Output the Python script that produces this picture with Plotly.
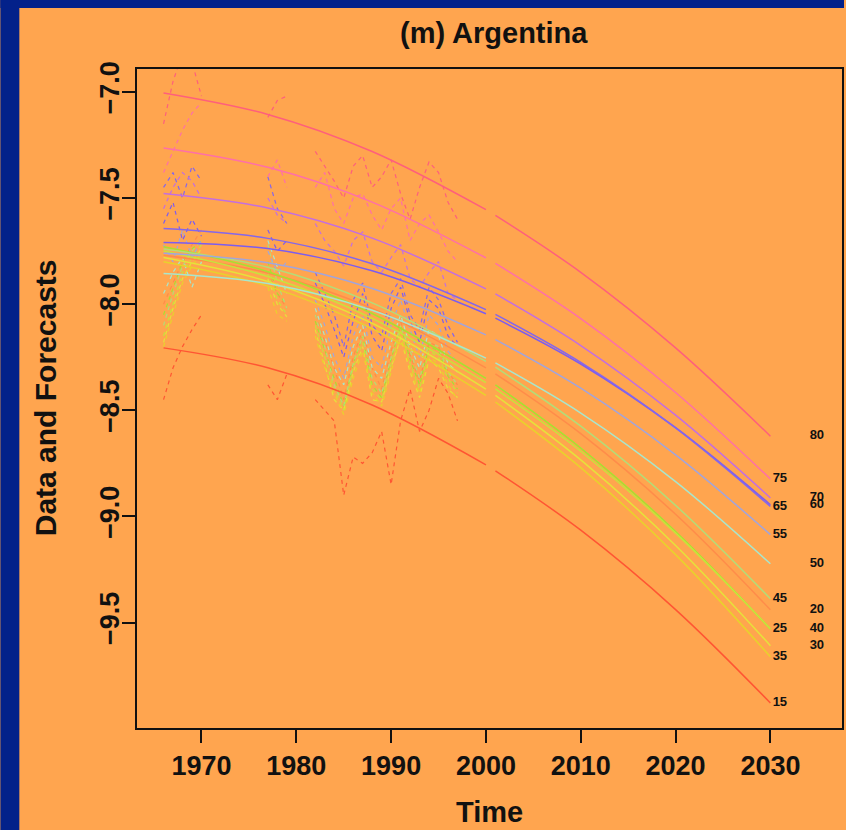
import plotly.graph_objects as go

# ---------------------------------------------------------------------------
# Data: log mortality rates for Argentina by age group, observed values,
# fitted curves (1966-2000) and forecasts (2001-2030)
# ---------------------------------------------------------------------------
AGES = [15, 20, 25, 30, 35, 40, 45, 50, 55, 60, 65, 70, 75, 80]

# observed years (None breaks the dashed data into its three runs)
OBS_YEARS = [1966, 1967, 1968, 1969, 1970, None,
             1977, 1978, 1979, None,
             1982, 1983, 1984, 1985, 1986, 1987, 1988, 1989,
             1990, 1991, 1992, 1993, 1994, 1995, 1996, 1997]

# observed values, one row per age group (in AGES order)
OBSERVED = [
    [-8.45, -8.30, -8.20, -8.12, -8.05, None, -8.38, -8.45, -8.33, None,
     -8.45, -8.50, -8.55, -8.90, -8.72, -8.75, -8.70, -8.60, -8.85, -8.55, -8.40, -8.60, -8.50, -8.35, -8.42, -8.55],
    [-8.00, -7.90, -7.80, -7.72, -7.65, None, -7.85, -7.95, -8.02, None,
     -8.05, -8.18, -8.30, -8.45, -8.25, -8.12, -8.30, -8.40, -8.22, -8.08, -8.24, -8.36, -8.18, -8.20, -8.32, -8.38],
    [-8.05, -7.92, -7.80, -7.74, -7.70, None, -7.80, -7.95, -8.00, None,
     -8.08, -8.22, -8.35, -8.48, -8.28, -8.15, -8.38, -8.44, -8.26, -8.10, -8.26, -8.38, -8.20, -8.22, -8.34, -8.40],
    [-8.18, -8.02, -7.88, -7.80, -7.74, None, -7.88, -8.00, -8.06, None,
     -8.12, -8.28, -8.45, -8.50, -8.32, -8.20, -8.45, -8.46, -8.30, -8.16, -8.32, -8.44, -8.26, -8.30, -8.40, -8.44],
    [-8.20, -8.05, -7.90, -7.82, -7.76, None, -7.92, -8.05, -8.08, None,
     -8.15, -8.30, -8.42, -8.52, -8.35, -8.22, -8.42, -8.48, -8.32, -8.15, -8.30, -8.42, -8.25, -8.28, -8.38, -8.45],
    [-8.15, -8.00, -7.85, -7.78, -7.72, None, -7.85, -7.98, -8.05, None,
     -8.10, -8.25, -8.40, -8.50, -8.30, -8.18, -8.40, -8.45, -8.28, -8.12, -8.28, -8.40, -8.22, -8.25, -8.35, -8.42],
    [-8.10, -7.95, -7.82, -7.75, -7.70, None, -7.72, -7.90, -8.02, None,
     -8.05, -8.20, -8.38, -8.48, -8.28, -8.15, -8.35, -8.42, -8.25, -8.10, -8.22, -8.35, -8.18, -8.20, -8.32, -8.38],
    [-7.95, -7.85, -7.78, -7.92, -7.80, None, -7.70, -7.82, -7.95, None,
     -8.02, -8.15, -8.30, -8.38, -8.20, -8.10, -8.30, -8.35, -8.18, -8.05, -8.20, -8.30, -8.12, -8.15, -8.28, -8.32],
    [-7.72, -7.80, -7.65, -7.78, -7.70, None, -7.75, -7.85, -7.80, None,
     -7.98, -8.10, -8.25, -8.35, -8.15, -8.05, -8.25, -8.30, -8.10, -7.98, -8.12, -8.25, -8.05, -8.10, -8.22, -8.28],
    [-7.62, -7.52, -7.70, -7.60, -7.68, None, -7.65, -7.75, -7.70, None,
     -7.90, -8.00, -8.12, -8.25, -8.08, -7.95, -8.15, -8.22, -8.02, -7.92, -8.08, -8.18, -7.98, -8.02, -8.15, -8.20],
    [-7.45, -7.38, -7.50, -7.35, -7.42, None, -7.40, -7.55, -7.62, None,
     -7.85, -7.95, -8.05, -8.20, -7.98, -7.90, -8.10, -8.15, -7.95, -7.88, -8.05, -8.12, -7.92, -7.98, -8.10, -8.18],
    [-7.55, -7.45, -7.38, -7.42, -7.50, None, -7.50, -7.58, -7.62, None,
     -7.62, -7.70, -7.75, -7.82, -7.70, -7.66, -7.80, -7.85, -7.78, -7.72, -7.88, -7.92, -7.85, -7.80, -7.95, -7.98],
    [-7.38, -7.28, -7.18, -7.10, -7.05, None, -7.40, -7.32, -7.45, None,
     -7.45, -7.38, -7.55, -7.62, -7.50, -7.48, -7.58, -7.65, -7.55, -7.50, -7.70, -7.62, -7.58, -7.66, -7.75, -7.80],
    [-7.15, -6.95, -6.82, -6.86, -7.02, None, -7.12, -7.04, -7.02, None,
     -7.28, -7.35, -7.42, -7.50, -7.35, -7.30, -7.45, -7.40, -7.32, -7.48, -7.60, -7.45, -7.33, -7.38, -7.52, -7.60],
]

# fitted curve values
FIT_YEARS = [1966, 1977, 1988, 2000]
FITTED = [
    [-8.206, -8.300, -8.475, -8.757],
    [-7.770, -7.853, -8.020, -8.300],
    [-7.730, -7.847, -8.044, -8.350],
    [-7.780, -7.893, -8.090, -8.400],
    [-7.800, -7.915, -8.115, -8.430],
    [-7.750, -7.870, -8.067, -8.370],
    [-7.740, -7.826, -7.994, -8.270],
    [-7.856, -7.903, -8.029, -8.254],
    [-7.760, -7.805, -7.926, -8.145],
    [-7.709, -7.738, -7.843, -8.045],
    [-7.644, -7.690, -7.810, -8.026],
    [-7.479, -7.547, -7.689, -7.928],
    [-7.264, -7.355, -7.519, -7.782],
    [-7.005, -7.106, -7.281, -7.555],
]

# forecast values
FC_YEARS = [2001, 2010, 2020, 2030]
FORECAST = [
    [-8.785, -9.065, -9.439, -9.879],
    [-8.328, -8.610, -8.990, -9.440],
    [-8.380, -8.678, -9.071, -9.531],
    [-8.430, -8.734, -9.137, -9.609],
    [-8.461, -8.770, -9.180, -9.661],
    [-8.399, -8.693, -9.079, -9.530],
    [-8.297, -8.575, -8.948, -9.388],
    [-8.277, -8.513, -8.836, -9.223],
    [-8.167, -8.396, -8.710, -9.086],
    [-8.066, -8.282, -8.582, -8.945],
    [-8.048, -8.274, -8.583, -8.953],
    [-7.952, -8.195, -8.523, -8.913],
    [-7.808, -8.068, -8.416, -8.824],
    [-7.582, -7.850, -8.206, -8.622],
]

X_TICKS = [1970, 1980, 1990, 2000, 2010, 2020, 2030]
Y_TICKS = [-9.5, -9.0, -8.5, -8.0, -7.5, -7.0]

# ---------------------------------------------------------------------------
# Styling
# ---------------------------------------------------------------------------
COLORS = ["#ff5533", "#ff8c4a", "#a8e030", "#e6e23a", "#e8d22c", "#c8e23c",
          "#b4dc78", "#a8e6cc", "#a2a4dc", "#7c5cf0", "#8466ec", "#c46ee0",
          "#ff6fa8", "#ff5f7c"]
ORANGE = "#ffa54f"
NAVY = "#03218a"
FONT = "Liberation Sans, Arial, sans-serif"

W, H = 846, 830
ML, MR, MT, MB = 137, 2, 69, 102
PW, PH = W - ML - MR, H - MT - MB

fig = go.Figure()

for i, age in enumerate(AGES):
    c = COLORS[i]
    fig.add_trace(go.Scatter(x=OBS_YEARS, y=OBSERVED[i], mode="lines",
                             line=dict(color=c, width=1.2, dash="4px,4px"),
                             connectgaps=False, showlegend=False, hoverinfo="skip"))
for i, age in enumerate(AGES):
    c = COLORS[i]
    fig.add_trace(go.Scatter(x=FIT_YEARS, y=FITTED[i], mode="lines",
                             line=dict(color=c, width=1.5, shape="spline"),
                             showlegend=False, hoverinfo="skip"))
    fig.add_trace(go.Scatter(x=FC_YEARS, y=FORECAST[i], mode="lines",
                             line=dict(color=c, width=1.5, shape="spline"),
                             showlegend=False, hoverinfo="skip"))

# age labels at the end of each forecast, alternating between two columns
left_idx = [i for i, a in enumerate(AGES) if a % 10 == 5]
right_idx = [i for i, a in enumerate(AGES) if a % 10 == 0]
for idx, xpos in ((left_idx, 2031.0), (right_idx, 2034.9)):
    fig.add_trace(go.Scatter(
        x=[xpos] * len(idx), y=[FORECAST[i][-1] for i in idx],
        text=[str(AGES[i]) for i in idx], mode="text",
        textposition="middle center",
        textfont=dict(family=FONT, size=13, color="#111111", weight="bold"),
        showlegend=False, hoverinfo="skip"))

axis_common = dict(showgrid=False, zeroline=False, showline=True, mirror=True,
                   linecolor="#111111", linewidth=2, ticks="outside", ticklen=13,
                   tickwidth=2, tickcolor="#111111",
                   tickfont=dict(family=FONT, size=27, color="#111111", weight="bold"))

fig.update_xaxes(range=[1963.2, 2037.55], tickvals=X_TICKS, **axis_common)
fig.update_yaxes(range=[-9.997, -6.892], tickvals=Y_TICKS,
                 ticktext=[f"\u2212{abs(v):.1f}" for v in Y_TICKS],
                 tickangle=-90, ticklabelstandoff=-8, **axis_common)

def px_x(px):
    return (px - ML) / PW

def px_y(py):
    return (H - MB - py) / PH

shapes = [
    dict(type="rect", xref="paper", yref="paper", x0=px_x(0), x1=px_x(19),
         y0=px_y(H), y1=px_y(0), fillcolor=NAVY, line=dict(width=0), layer="below"),
    dict(type="rect", xref="paper", yref="paper", x0=px_x(0), x1=px_x(W),
         y0=px_y(8), y1=px_y(0), fillcolor=NAVY, line=dict(width=0), layer="below"),
]

title_font = dict(family=FONT, size=29, color="#111111", weight="bold")
annotations = [
    dict(text="(m) Argentina", xref="paper", yref="paper", x=px_x(495), y=px_y(33),
         xanchor="center", yanchor="middle", showarrow=False,
         font=dict(family=FONT, size=29, color="#111111", weight="bold")),
    dict(text="Time", xref="paper", yref="paper", x=px_x(490), y=px_y(812),
         xanchor="center", yanchor="middle", showarrow=False, font=title_font),
    dict(text="Data and Forecasts", xref="paper", yref="paper", x=px_x(45), y=px_y(398),
         xanchor="center", yanchor="middle", showarrow=False, textangle=-90,
         font=dict(family=FONT, size=30, color="#111111", weight="bold")),
]

fig.update_layout(width=W, height=H, margin=dict(l=ML, r=MR, t=MT, b=MB, pad=0),
                  paper_bgcolor=ORANGE, plot_bgcolor=ORANGE,
                  shapes=shapes, annotations=annotations, showlegend=False)

fig.write_html("out.html")
